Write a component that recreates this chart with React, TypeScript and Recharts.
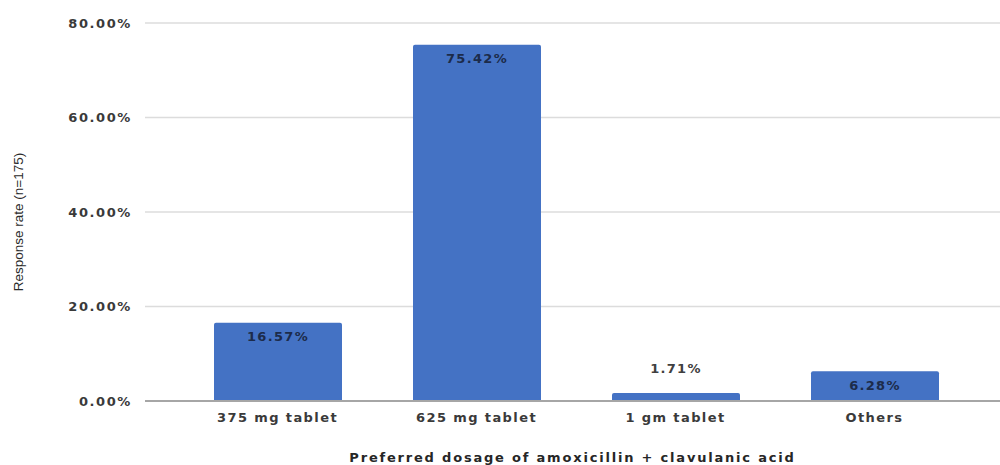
import { BarChart, Bar, XAxis, YAxis, CartesianGrid, LabelList } from 'recharts'

const dosages = ['375 mg tablet', '625 mg tablet', '1 gm tablet', 'Others']
const responseRate = [16.57, 75.42, 1.71, 6.28]
const yTicks = [0, 20, 40, 60, 80]

const data = dosages.map((name, i) => ({ name, rate: responseRate[i] }))

const FONT = '"DejaVu Sans", Verdana, sans-serif'
const pct = (v: number) => `${v.toFixed(2)}%`

// Excel-style data label: inside the top of the bar, or above it when the bar is too short
const BarValue = (props: any) => {
  const { x, y, width, height, value } = props
  const cx = x + width / 2
  const inside = height > 20
  return (
    <text
      x={cx}
      y={inside ? y + 14 : y - 24}
      textAnchor="middle"
      dominantBaseline="central"
      fontFamily={FONT}
      fontWeight="bold"
      fontSize={13}
      letterSpacing={1.3}
      fill={inside ? '#1c2b4a' : '#404040'}
    >
      {pct(value)}
    </text>
  )
}

const YTitle = (props: any) => {
  const { viewBox } = props
  const cx = 18
  const cy = viewBox.y + viewBox.height / 2 + 10
  return (
    <text
      x={cx}
      y={cy}
      transform={`rotate(-90 ${cx} ${cy})`}
      textAnchor="middle"
      dominantBaseline="central"
      fontFamily='"Liberation Sans Narrow", "Liberation Sans", Arial, sans-serif'
      fontSize={13.5}
      fill="#2b2b2b"
    >
      Response rate (n=175)
    </text>
  )
}

export default function App() {
  return (
    <div style={{ position: 'absolute', left: 0, top: 0, width: 1000, height: 465, background: '#fff' }}>
      <BarChart width={1000} height={465} data={data} margin={{ top: 23, right: 0, bottom: 0, left: 0 }}>
        <CartesianGrid vertical={false} stroke="#dcdcdc" strokeWidth={1.5} />
        <XAxis
          dataKey="name"
          height={64}
          padding={{ left: 33, right: 26 }}
          tickLine={false}
          tickSize={0}
          tickMargin={12}
          axisLine={{ stroke: '#a6a6a6', strokeWidth: 2 }}
          tick={{ fontFamily: FONT, fontWeight: 'bold', fontSize: 13, fill: '#3a3a3a', letterSpacing: 1.4 }}
          label={{
            value: 'Preferred dosage of amoxicillin + clavulanic acid',
            position: 'insideBottom',
            offset: 3,
            style: { fontFamily: FONT, fontWeight: 'bold', fontSize: 13, fill: '#262626', letterSpacing: 1.8 },
          }}
        />
        <YAxis
          width={145}
          domain={[0, 80]}
          ticks={yTicks}
          interval={0}
          tickFormatter={pct}
          axisLine={false}
          tickLine={false}
          tickSize={0}
          tickMargin={13}
          tick={{ fontFamily: FONT, fontWeight: 'bold', fontSize: 13, fill: '#3a3a3a', letterSpacing: 1.6 }}
          label={<YTitle />}
        />
        <Bar dataKey="rate" fill="#4472c4" barSize={128} radius={[2, 2, 0, 0]} isAnimationActive={false}>
          <LabelList dataKey="rate" content={<BarValue />} />
        </Bar>
      </BarChart>
    </div>
  )
}
